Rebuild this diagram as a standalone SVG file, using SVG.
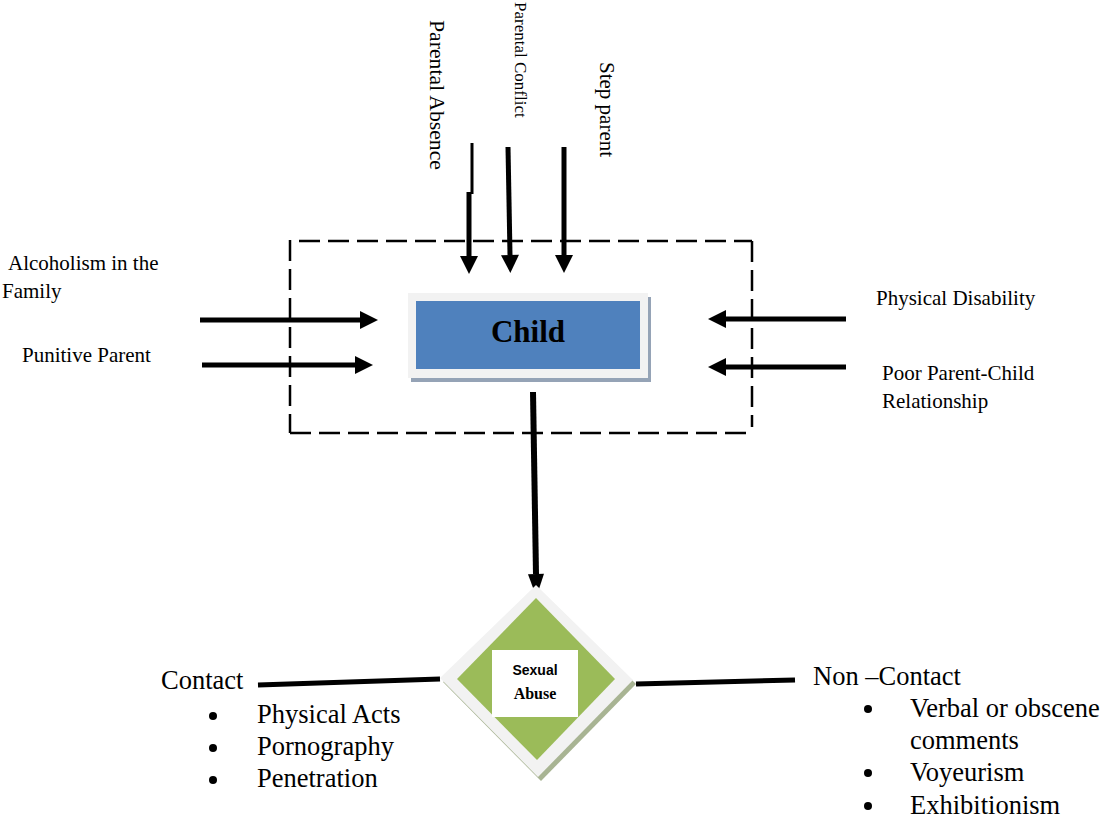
<svg xmlns="http://www.w3.org/2000/svg" width="1106" height="822" viewBox="0 0 1106 822">
<style>
.t{font-family:"Liberation Serif","Times New Roman",serif;fill:#000}
.s20{font-size:21px}
.s25{font-size:26.5px}
.ln{stroke:#000;fill:none}
.dash{stroke:#000;stroke-width:2.5;fill:none;stroke-dasharray:21,8}
</style>
<defs>
<marker id="ah" markerUnits="userSpaceOnUse" markerWidth="18" markerHeight="18" refX="0" refY="9" orient="auto" overflow="visible">
<path d="M0,0 L18,9 L0,18 Z" fill="#000"/>
</marker>
<marker id="ahd" markerUnits="userSpaceOnUse" markerWidth="23" markerHeight="16" refX="0" refY="8" orient="auto" overflow="visible">
<path d="M0,0 L23,8 L0,16 Z" fill="#000"/>
</marker>
</defs>
<rect width="1106" height="822" fill="#fff"/>

<g id="boundary">
<path class="dash" d="M299,241 H752"/>
<path class="dash" d="M290,240 V433"/>
<path class="dash" d="M290,433 H752"/>
<path class="dash" d="M752,241 V427"/>
</g>

<g id="connectors">
<line class="ln" x1="472" y1="143" x2="472" y2="194" stroke-width="3"/>
<line class="ln" x1="469" y1="192" x2="469" y2="256" stroke-width="5" marker-end="url(#ah)"/>
<line class="ln" x1="508" y1="147" x2="510" y2="255" stroke-width="5" marker-end="url(#ah)"/>
<line class="ln" x1="564" y1="147" x2="564" y2="255" stroke-width="5" marker-end="url(#ah)"/>
<line class="ln" x1="200" y1="320" x2="360" y2="320" stroke-width="5" marker-end="url(#ah)"/>
<line class="ln" x1="202" y1="365" x2="355" y2="365" stroke-width="5" marker-end="url(#ah)"/>
<line class="ln" x1="846" y1="319" x2="726" y2="319" stroke-width="5" marker-end="url(#ah)"/>
<line class="ln" x1="846" y1="367" x2="726" y2="367" stroke-width="5" marker-end="url(#ah)"/>
<line class="ln" x1="533" y1="392" x2="536" y2="574" stroke-width="6" marker-end="url(#ahd)"/>
<line class="ln" x1="258" y1="685" x2="440" y2="679" stroke-width="5"/>
<line class="ln" x1="636" y1="684" x2="795" y2="680" stroke-width="5"/>
</g>

<g id="parental-absence">
<text class="t" font-size="21.7" transform="translate(430,20) rotate(90)">Parental Absence</text>
</g>
<g id="parental-conflict">
<text class="t" font-size="17" transform="translate(515,2) rotate(90)">Parental Conflict</text>
</g>
<g id="step-parent">
<text class="t s20" transform="translate(600,62) rotate(90)">Step parent</text>
</g>
<g id="alcoholism">
<text class="t s20" x="8" y="270"> Alcoholism in the</text>
<text class="t s20" x="2" y="298">Family</text>
</g>
<g id="punitive-parent">
<text class="t s20" x="22" y="362">Punitive Parent</text>
</g>
<g id="physical-disability">
<text class="t s20" x="876" y="305">Physical Disability</text>
</g>
<g id="poor-relationship">
<text class="t s20" x="882" y="380">Poor Parent-Child</text>
<text class="t s20" x="882" y="408">Relationship</text>
</g>

<g id="child">
<rect x="411" y="297" width="240" height="85" fill="#95a3b6"/>
<rect x="408" y="293" width="240" height="85" fill="#f2f2f2"/>
<rect x="416" y="301" width="224" height="68" fill="#4f81bd"/>
<text class="t" x="528" y="342" text-anchor="middle" font-size="31" font-weight="bold">Child</text>
</g>

<g id="sexual-abuse">
<polygon points="539,589 636,684 541,781 443,682" fill="#a8b493"/>
<polygon points="536,585 633,680 538,777 440,678" fill="#f2f2f2"/>
<polygon points="536,598 615,679 537,760 457,679" fill="#9bbb59"/>
<rect x="492" y="650" width="86" height="67" fill="#fff"/>
<text x="535" y="675" text-anchor="middle" font-family="Liberation Sans, Arial, sans-serif" font-size="14" font-weight="bold">Sexual</text>
<text x="535" y="699" text-anchor="middle" font-family="Liberation Serif, Times New Roman, serif" font-size="16" font-weight="bold">Abuse</text>
</g>

<g id="contact">
<text class="t s25" x="161" y="689">Contact</text>
<circle cx="213" cy="716" r="4"/>
<text class="t s25" x="257" y="723">Physical Acts</text>
<circle cx="213" cy="748" r="4"/>
<text class="t s25" x="257" y="755">Pornography</text>
<circle cx="213" cy="780" r="4"/>
<text class="t s25" x="257" y="787">Penetration</text>
</g>

<g id="non-contact">
<text class="t s25" x="813" y="685">Non –Contact</text>
<circle cx="868" cy="709" r="4"/>
<text class="t s25" x="910" y="717">Verbal or obscene</text>
<text class="t s25" x="910" y="749">comments</text>
<circle cx="868" cy="773" r="4"/>
<text class="t s25" x="910" y="781">Voyeurism</text>
<circle cx="868" cy="806" r="4"/>
<text class="t s25" x="910" y="814">Exhibitionism</text>
</g>
</svg>
